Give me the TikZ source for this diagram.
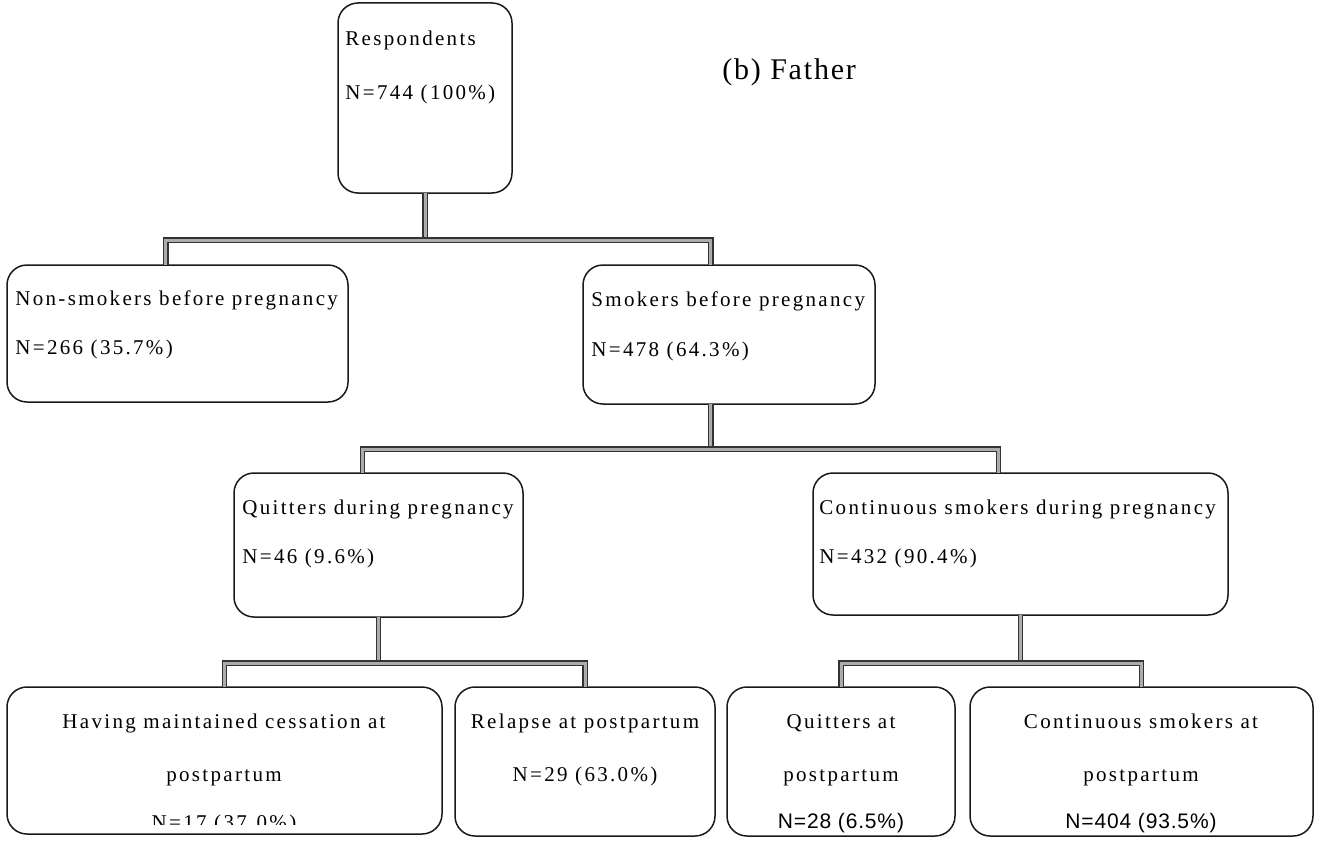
\documentclass[tikz,border=0pt]{standalone}
\usepackage{fontspec}
\setmainfont{Liberation Serif}[LetterSpace=11]
\newfontfamily\numfont{Liberation Sans}[LetterSpace=4]
\newfontfamily\titlefont{Liberation Serif}[LetterSpace=6]
\usetikzlibrary{calc}
\tikzset{
    box/.style={draw=black!90, line width=0.75pt, rounded corners=10pt, fill=white,
        inner sep=0pt, outer sep=0pt, anchor=north west}, % frame of one group
    bar/.style={draw=black!80, line width=0.55pt, double=gray!65, double distance=1.5pt}, % grey bars between the groups
    txt/.style={inner sep=0pt, font=\fontsize{10.5}{12}\selectfont}, % one line of text
}

\begin{document}
\begin{tikzpicture}[x=0.5pt, y=-0.5pt]
        \useasboundingbox (0,0) rectangle (1321,840);

        % the groups
        \node[box, minimum width=87pt, minimum height=95pt] (resp) at (338,3) {};
        \node[box, minimum width=170.5pt, minimum height=68.5pt] (non) at (7,265) {};
        \node[box, minimum width=146pt, minimum height=69.5pt] (smk) at (583,265) {};
        \node[box, minimum width=144.5pt, minimum height=72pt] (quit) at (234,473) {};
        \node[box, minimum width=207.5pt, minimum height=71pt] (cont) at (813,473) {};
        \node[box, minimum width=217.5pt, minimum height=73.5pt] (maint) at (7,687) {};
        \node[box, minimum width=130pt, minimum height=74.5pt] (relap) at (455,687) {};
        \node[box, minimum width=114pt, minimum height=74.5pt] (qpp) at (727,687) {};
        \node[box, minimum width=171.5pt, minimum height=74.5pt] (cpp) at (970,687) {};

        \node[txt, anchor=base west, font=\titlefont\fontsize{15}{18}\selectfont] (title) at (722,80) {(b) Father};

        \node[txt, anchor=base west] (resp-a) at (345,46) {Respondents};
        \node[txt, anchor=base west] (resp-b) at (345,100) {N=744 (100\%)};
        \node[txt, anchor=base west] (non-a) at (15,305) {Non-smokers before pregnancy};
        \node[txt, anchor=base west] (non-b) at (15,354) {N=266 (35.7\%)};
        \node[txt, anchor=base west] (smk-a) at (591,306) {Smokers before pregnancy};
        \node[txt, anchor=base west] (smk-b) at (591,356) {N=478 (64.3\%)};
        \node[txt, anchor=base west] (quit-a) at (242,514) {Quitters during pregnancy};
        \node[txt, anchor=base west] (quit-b) at (242,563) {N=46 (9.6\%)};
        \node[txt, anchor=base west] (cont-a) at (819,514) {Continuous smokers during pregnancy};
        \node[txt, anchor=base west] (cont-b) at (819,563) {N=432 (90.4\%)};

        \node[txt, anchor=base] (maint-a) at (224,728) {Having maintained cessation at};
        \node[txt, anchor=base] (maint-b) at (224,781) {postpartum};
        \begin{scope}
            \clip (maint.north west) rectangle ($(maint.south east)+(0,-10)$);
            \node[txt, anchor=base] (maint-c) at (224,829) {N=17 (37.0\%)};
        \end{scope}
        \node[txt, anchor=base] (relap-a) at (585,728) {Relapse at postpartum};
        \node[txt, anchor=base] (relap-b) at (585,781) {N=29 (63.0\%)};
        \node[txt, anchor=base] (qpp-a) at (841,728) {Quitters at};
        \node[txt, anchor=base] (qpp-b) at (841,781) {postpartum};
        \node[txt, anchor=base, font=\numfont\fontsize{10.5}{12}\selectfont] (qpp-c) at (841,828) {N=28 (6.5\%)};
        \node[txt, anchor=base] (cpp-a) at (1141,728) {Continuous smokers at};
        \node[txt, anchor=base] (cpp-b) at (1141,781) {postpartum};
        \node[txt, anchor=base, font=\numfont\fontsize{10.5}{12}\selectfont] (cpp-c) at (1141,828) {N=404 (93.5\%)};

        % where the bars meet the groups
        \coordinate (non-in) at ($(non.north west)!0.466!(non.north east)$);
        \coordinate (smk-in) at ($(smk.north west)!0.438!(smk.north east)$);
        \coordinate (smk-out) at ($(smk.south west)!0.438!(smk.south east)$);
        \coordinate (quit-in) at ($(quit.north west)!0.446!(quit.north east)$);
        \coordinate (cont-in) at ($(cont.north west)!0.446!(cont.north east)$);

        % the bars
        \draw[bar] (resp.south) -- ++(0,47) coordinate (j1);
        \draw[bar] (non-in) |- (j1) -| (smk-in);
        \draw[bar] (smk-out) -- ++(0,45) coordinate (j2);
        \draw[bar] (quit-in) |- (j2) -| (cont-in);
        \draw[bar] (quit.south) -- ++(0,46) coordinate (j3);
        \draw[bar] (maint.north) |- (j3) -| (relap.north);
        \draw[bar] (cont.south) -- ++(0,48) coordinate (j4);
        \draw[bar] (qpp.north) |- (j4) -| (cpp.north);

    \end{tikzpicture}
\end{document}
